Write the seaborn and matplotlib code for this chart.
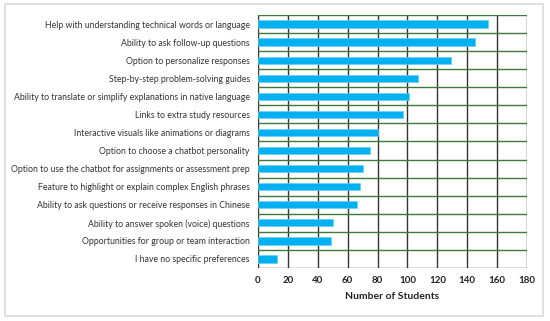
import matplotlib
matplotlib.use("Agg")
import matplotlib.pyplot as plt
import seaborn as sns
import pandas as pd
from matplotlib.patches import Rectangle

categories = [
    "Help with understanding technical words or language",
    "Ability to ask follow-up questions",
    "Option to personalize responses",
    "Step-by-step problem-solving guides",
    "Ability to translate or simplify explanations in native language",
    "Links to extra study resources",
    "Interactive visuals like animations or diagrams",
    "Option to choose a chatbot personality",
    "Option to use the chatbot for assignments or assessment prep",
    "Feature to highlight or explain complex English phrases",
    "Ability to ask questions or receive responses in Chinese",
    "Ability to answer spoken (voice) questions",
    "Opportunities for group or team interaction",
    "I have no specific preferences",
]
students = [154, 145, 129, 107, 101, 97, 80, 75, 70, 68, 66, 50, 49, 13]
x_ticks = [0, 20, 40, 60, 80, 100, 120, 140, 160, 180]

df = pd.DataFrame({"Feature": categories, "Students": students})

sns.set_style("white")
plt.rcParams["font.family"] = ["Lato", "DejaVu Sans"]

fig = plt.figure(figsize=(5.5, 3.21), dpi=100)
ax = fig.add_axes([258/550, 1-268/321, (527-258)/550, (268-15)/321])

sns.barplot(data=df, x="Students", y="Feature", color="#00B0F0", width=0.4,
            saturation=1, ax=ax, edgecolor="#66D0F6", linewidth=0.5)

ax.set_xlim(0, 180)
ax.set_ylim(len(categories) - 0.5, -0.5)
ax.set_xticks(x_ticks)
ax.set_xticklabels([str(t) for t in x_ticks], fontsize=7, fontweight="bold", color="#222222")
ax.set_yticks(range(len(categories)))
ax.set_yticklabels(categories, fontsize=6.3, color="#333333")
ax.set_yticks([i - 0.5 for i in range(len(categories) + 1)], minor=True)
ax.tick_params(axis="both", length=0, pad=6)
ax.tick_params(axis="y", which="minor", length=0)
ax.set_axisbelow(True)
ax.grid(False)
for t in x_ticks:
    ax.axvline(t, color="#333333", lw=1.0, zorder=0)
ax.grid(True, axis="y", which="minor", color="#3E7A3E", lw=1.0)
for s in ax.spines.values():
    s.set_visible(False)
ax.set_xlabel("Number of Students", fontsize=7.5, fontweight="bold", color="#222222", labelpad=5)
ax.set_ylabel("")

fig.patches.append(Rectangle((5/550, 1-316/321), (543-5)/550, (316-4)/321,
                             transform=fig.transFigure, fill=False,
                             edgecolor="#D9D9D9", lw=1.2))

fig.savefig("out.png", dpi=100)
